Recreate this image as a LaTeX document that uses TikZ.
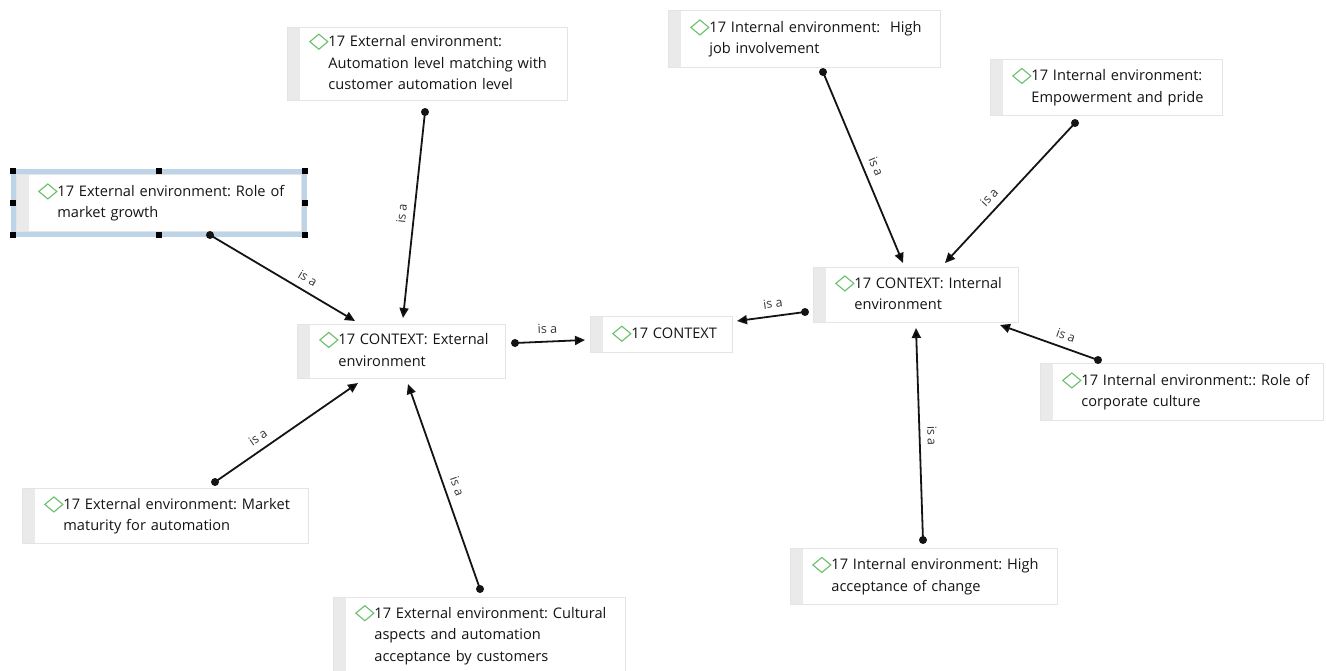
\documentclass[tikz,border=0pt]{standalone}
\usepackage{fontspec}
\setmainfont{Open Sans}
\usetikzlibrary{arrows.meta,calc}

\definecolor{boxline}{HTML}{E4E4E4}
\definecolor{stripgray}{HTML}{EAEAEA}
\definecolor{dgreen}{HTML}{6CBF6C}
\definecolor{selblue}{HTML}{BDD3E8}
\definecolor{ink}{HTML}{141414}

% green diamond in front of each concept title
\newcommand\dmark{\tikz[baseline={(0pt,-5pt)}]\draw[dgreen,line width=1.1pt]
  (0pt,0pt) -- (9pt,7.5pt) -- (18pt,0pt) -- (9pt,-7.5pt) -- cycle;}
% title lines, indented past the grey strip, with the diamond before line one
\newcommand\ctext[1]{\frenchspacing\hspace*{41pt}\llap{\dmark}%
  \begin{tabular}[t]{@{}l@{}}#1\end{tabular}}

\tikzset{
  concept/.style 2 args={draw=boxline, line width=0.8pt, fill=white,
    anchor=north west, inner sep=0pt, align=left, text=ink,
    text width=#1, minimum height=#2,
    font=\fontsize{14.6pt}{21.5pt}\selectfont,
    path picture={\fill[stripgray] (path picture bounding box.north west)
      rectangle ([xshift=13pt]path picture bounding box.south west);}},
  link/.style={draw=ink, line width=1.8pt, -{Triangle[length=10pt,width=9pt]}},
  lbl/.style={sloped, above=7pt, inner sep=0pt, text=ink!85,
    font=\fontsize{12.5pt}{13pt}\selectfont},
  dotmark/.style={fill=ink},
  handle/.style={fill=black},
}

\begin{document}
\begin{tikzpicture}[x=1pt, y=-1pt]
\useasboundingbox (0,0) rectangle (1326,670);
\fill[white] (0,0) rectangle (1326,670);

% concepts
\node[concept={285pt}{57pt}] (rmg) at (16,174)
  {\ctext{17 External environment: Role of\\market growth}};
\node[concept={280pt}{73pt}] (auto) at (287,27)
  {\ctext{17 External environment:\\Automation level matching with\\customer automation level}};
\node[concept={208pt}{54pt}] (cext) at (297,324)
  {\ctext{17 CONTEXT: External\\environment}};
\node[concept={142pt}{36pt}] (ctx) at (590,316)
  {\ctext{17 CONTEXT}};
\node[concept={272pt}{57pt}] (hji) at (668,10)
  {\ctext{17 Internal environment:\ \ High\\job involvement}};
\node[concept={232pt}{56pt}] (emp) at (990,59)
  {\ctext{17 Internal environment:\\Empowerment and pride}};
\node[concept={205pt}{55pt}] (cint) at (813,267)
  {\ctext{17 CONTEXT: Internal\\environment}};
\node[concept={283pt}{57pt}] (rcc) at (1040,363)
  {\ctext{17 Internal environment:: Role of\\corporate culture}};
\node[concept={267pt}{56pt}] (hac) at (790,548)
  {\ctext{17 Internal environment: High\\acceptance of change}};
\node[concept={286pt}{55pt}] (mm) at (22,488)
  {\ctext{17 External environment: Market\\maturity for automation}};
\node[concept={292pt}{76pt}] (cult) at (333,597)
  {\ctext{17 External environment: Cultural\\aspects and automation\\acceptance by customers}};

% selection frame with handles around the first concept
\coordinate (s1) at ($(rmg.north west)+(-3,-3)$);
\coordinate (s2) at ($(rmg.south east)+(3,3)$);
\draw[selblue, line width=5pt] (s1) rectangle (s2);
\foreach \p in {(s1), (s1 -| s2), (s1 |- s2), (s2),
    ($(s1)!0.5!(s1 -| s2)$), ($(s1 |- s2)!0.5!(s2)$),
    ($(s1)!0.5!(s1 |- s2)$), ($(s1 -| s2)!0.5!(s2)$)}
  \fill[handle] \p +(-3,-3) rectangle +(3,3);

% connector end points
\coordinate (a1) at ($(rmg.north west)+(194,61)$);
\coordinate (b1) at ($(cext.north west)+(58,-3)$);
\coordinate (a2) at ($(auto.north west)+(138,85)$);
\coordinate (b2) at ($(cext.north west)+(106,-6)$);
\coordinate (a3) at ($(cext.north west)+(218,19)$);
\coordinate (b3) at ($(ctx.north west)+(-5,24)$);
\coordinate (a4) at ($(cint.north west)+(-8,45)$);
\coordinate (b4) at ($(ctx.north west)+(147,5)$);
\coordinate (a5) at ($(hji.north west)+(155,62)$);
\coordinate (b5) at ($(cint.north west)+(90,-4)$);
\coordinate (a6) at ($(emp.north west)+(85,64)$);
\coordinate (b6) at ($(cint.north west)+(132,-4)$);
\coordinate (a7) at ($(rcc.north west)+(58,-3)$);
\coordinate (b7) at ($(cint.north west)+(187,58)$);
\coordinate (a8) at ($(hac.north west)+(133,-8)$);
\coordinate (b8) at ($(cint.north west)+(103,61)$);
\coordinate (a9) at ($(mm.north west)+(193,-6)$);
\coordinate (b9) at ($(cext.north west)+(61,59)$);
\coordinate (a10) at ($(cult.north west)+(147,-8)$);
\coordinate (b10) at ($(cext.north west)+(111,60)$);

% "is a" connectors
\draw[link] (a1) -- (b1) node[lbl, pos=0.63] {is a};
\draw[link] (a2) -- (b2) node[lbl, pos=0.5] {is a};
\draw[link] (a3) -- (b3) node[lbl, pos=0.47] {is a};
\draw[link] (a4) -- (b4) node[lbl, pos=0.45] {is a};
\draw[link] (a5) -- (b5) node[lbl, pos=0.52] {is a};
\draw[link] (a6) -- (b6) node[lbl, pos=0.59] {is a};
\draw[link] (a7) -- (b7) node[lbl, pos=0.37] {is a};
\draw[link] (a8) -- (b8) node[lbl, pos=0.49] {is a};
\draw[link] (a9) -- (b9) node[lbl, pos=0.35] {is a};
\draw[link] (a10) -- (b10) node[lbl, pos=0.48] {is a};
\foreach \c in {a1,a2,a3,a4,a5,a6,a7,a8,a9,a10}
  \fill[dotmark] (\c) circle (4pt);
\end{tikzpicture}
\end{document}
